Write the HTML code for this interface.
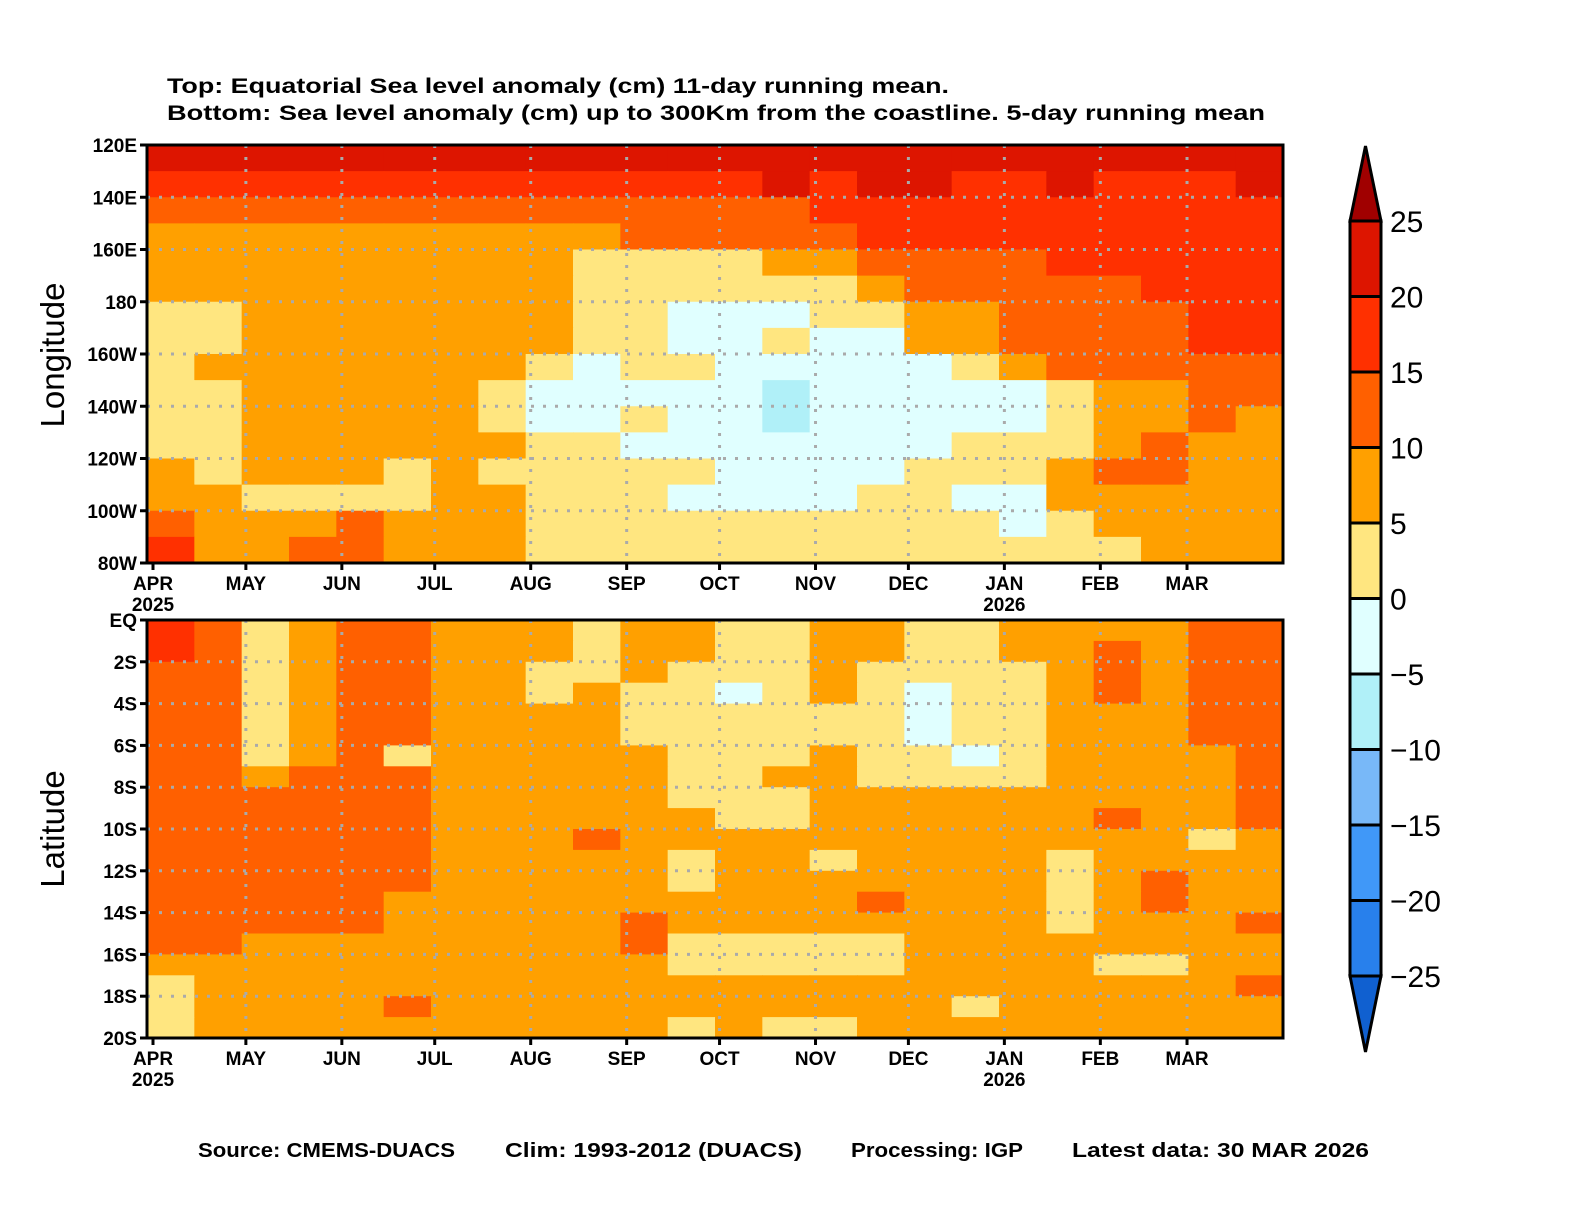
<!DOCTYPE html>
<html><head><meta charset="utf-8"><style>
body{margin:0;background:#fff;}
svg text{font-family:"Liberation Sans",sans-serif;font-weight:bold;fill:#000;}
</style></head><body>
<svg id="chart" width="1584" height="1224" xmlns="http://www.w3.org/2000/svg">
<rect x="0" y="0" width="1584" height="1224" fill="#fff"/>
<text x="167" y="93" font-size="21" textLength="782" lengthAdjust="spacingAndGlyphs">Top: Equatorial Sea level anomaly (cm) 11-day running mean.</text>
<text x="167" y="120" font-size="21" textLength="1098" lengthAdjust="spacingAndGlyphs">Bottom: Sea level anomaly (cm) up to 300Km from the coastline. 5-day running mean</text>
<g id="top"></g>
<g id="bot"></g>
<g id="cbar"></g>
<text transform="translate(64,355) rotate(-90)" text-anchor="middle" font-size="33" style="font-weight:normal">Longitude</text>
<text transform="translate(64,829) rotate(-90)" text-anchor="middle" font-size="33" style="font-weight:normal">Latitude</text>
<text x="198" y="1157" font-size="20" textLength="257" lengthAdjust="spacingAndGlyphs">Source: CMEMS-DUACS</text>
<text x="505" y="1157" font-size="20" textLength="297" lengthAdjust="spacingAndGlyphs">Clim: 1993-2012 (DUACS)</text>
<text x="851" y="1157" font-size="20" textLength="172" lengthAdjust="spacingAndGlyphs">Processing: IGP</text>
<text x="1072" y="1157" font-size="20" textLength="297" lengthAdjust="spacingAndGlyphs">Latest data: 30 MAR 2026</text>
</svg>
<script>
const levels=[-25,-20,-15,-10,-5,0,5,10,15,20,25];
const colors=['#1060d0','#2880ec','#4098f8','#78b8f8','#b0f0f8','#e0ffff','#ffe680','#ffa000','#ff6000','#ff3000','#dd1500','#a00000'];
const months=['APR','MAY','JUN','JUL','AUG','SEP','OCT','NOV','DEC','JAN','FEB','MAR'];
const monthDays=[0,30,61,91,122,153,183,214,244,275,306,334];
const topTicks=['120E','140E','160E','180','160W','140W','120W','100W','80W'];
const botTicks=['EQ','2S','4S','6S','8S','10S','12S','14S','16S','18S','20S'];
const topData=[
[22,22,22,22,22,22,22,22,22,22,22,22,22,22,22,22,22,22,22,22,22,22,22,22],
[17,17,17,17,17,17,17,17,17,17,17,17,17,22,17,22,22,17,17,22,17,17,17,22],
[12,12,12,12,12,12,12,12,12,12,12,12,12,12,17,17,17,17,17,17,17,17,17,17],
[7,7,7,7,7,7,7,7,7,7,12,12,12,12,12,17,17,17,17,17,17,17,17,17],
[7,7,7,7,7,7,7,7,7,3,3,3,3,7,7,12,12,12,12,17,17,17,17,17],
[7,7,7,7,7,7,7,7,7,3,3,3,3,3,3,7,12,12,12,12,12,17,17,17],
[3,3,7,7,7,7,7,7,7,3,3,-2,-2,-2,3,3,7,7,12,12,12,12,17,17],
[3,3,7,7,7,7,7,7,7,3,3,-2,-2,3,-2,-2,7,7,12,12,12,12,17,17],
[3,7,7,7,7,7,7,7,3,-2,3,3,-2,-2,-2,-2,-2,3,7,12,12,12,12,12],
[3,3,7,7,7,7,7,3,-2,-2,-2,-2,-2,-7,-2,-2,-2,-2,-2,3,7,7,12,12],
[3,3,7,7,7,7,7,3,-2,-2,3,-2,-2,-7,-2,-2,-2,-2,-2,3,7,7,12,7],
[3,3,7,7,7,7,7,7,3,3,-2,-2,-2,-2,-2,-2,-2,3,3,3,7,12,7,7],
[7,3,7,7,7,3,7,3,3,3,3,3,-2,-2,-2,-2,3,3,3,7,12,12,7,7],
[7,7,3,3,3,3,7,7,3,3,3,-2,-2,-2,-2,3,3,-2,-2,7,7,7,7,7],
[12,7,7,7,12,7,7,7,3,3,3,3,3,3,3,3,3,3,-2,3,7,7,7,7],
[17,7,7,12,12,7,7,7,3,3,3,3,3,3,3,3,3,3,3,3,3,7,7,7]];
const botData=[
[17,12,3,7,12,12,7,7,7,3,7,7,3,3,7,7,3,3,7,7,7,7,12,12],
[17,12,3,7,12,12,7,7,7,3,7,7,3,3,7,7,3,3,7,7,12,7,12,12],
[12,12,3,7,12,12,7,7,3,3,7,3,3,3,7,3,3,3,3,7,12,7,12,12],
[12,12,3,7,12,12,7,7,3,7,3,3,-2,3,7,3,-2,3,3,7,12,7,12,12],
[12,12,3,7,12,12,7,7,7,7,3,3,3,3,3,3,-2,3,3,7,7,7,12,12],
[12,12,3,7,12,12,7,7,7,7,3,3,3,3,3,3,-2,3,3,7,7,7,12,12],
[12,12,3,7,12,3,7,7,7,7,7,3,3,3,7,3,3,-2,3,7,7,7,7,12],
[12,12,7,12,12,12,7,7,7,7,7,3,3,7,7,3,3,3,3,7,7,7,7,12],
[12,12,12,12,12,12,7,7,7,7,7,3,3,3,7,7,7,7,7,7,7,7,7,12],
[12,12,12,12,12,12,7,7,7,7,7,7,3,3,7,7,7,7,7,7,12,7,7,12],
[12,12,12,12,12,12,7,7,7,12,7,7,7,7,7,7,7,7,7,7,7,7,3,7],
[12,12,12,12,12,12,7,7,7,7,7,3,7,7,3,7,7,7,7,3,7,7,7,7],
[12,12,12,12,12,12,7,7,7,7,7,3,7,7,7,7,7,7,7,3,7,12,7,7],
[12,12,12,12,12,7,7,7,7,7,7,7,7,7,7,12,7,7,7,3,7,12,7,7],
[12,12,12,12,12,7,7,7,7,7,12,7,7,7,7,7,7,7,7,3,7,7,7,12],
[12,12,7,7,7,7,7,7,7,7,12,3,3,3,3,3,7,7,7,7,7,7,7,7],
[7,7,7,7,7,7,7,7,7,7,7,3,3,3,3,3,7,7,7,7,3,3,7,7],
[3,7,7,7,7,7,7,7,7,7,7,7,7,7,7,7,7,7,7,7,7,7,7,12],
[3,7,7,7,7,12,7,7,7,7,7,7,7,7,7,7,7,3,7,7,7,7,7,7],
[3,7,7,7,7,7,7,7,7,7,7,3,7,3,3,7,7,7,7,7,7,7,7,7]];

const NS='http://www.w3.org/2000/svg';
function mk(tag,attrs,parent){const e=document.createElementNS(NS,tag);for(const k in attrs)e.setAttribute(k,attrs[k]);parent.appendChild(e);return e;}
function colorFor(v){let i=0;while(i<levels.length&&v>=levels[i])i++;return colors[i];}
const X0=147,X1=1283,totalDays=365;
function xDay(d){return X0+6+(X1-X0-6)*d/totalDays;}

function panel(g,data,y0,y1,ticks,name){
  const rows=data.length,cols=data[0].length;
  const cw=(X1-X0)/cols,rh=(y1-y0)/rows;
  data.forEach((row,r)=>row.forEach((v,c)=>{
    const el=mk('rect',{x:X0+c*cw,y:y0+r*rh,width:cw+0.6,height:rh+0.6,fill:colorFor(v)},g);
    
    
  }));
  ticks.forEach((t,i)=>{
    const y=y0+(y1-y0)*i/(ticks.length-1);
    if(i>0&&i<ticks.length-1){const l=mk('line',{x1:X0,x2:X1,y1:y,y2:y,stroke:'#aaa','stroke-width':3,'stroke-dasharray':'3,9'},g);
    }
    mk('line',{x1:X0-7,x2:X0,y1:y,y2:y,stroke:'#000','stroke-width':3},g);
    const tx=mk('text',{x:X0-10,y:y+7,'text-anchor':'end','font-size':19},g);tx.textContent=t;
    
  });
  months.forEach((m,i)=>{
    const x=xDay(monthDays[i]);
    if(i>0){const l=mk('line',{x1:x,x2:x,y1:y0,y2:y1,stroke:'#aaa','stroke-width':3,'stroke-dasharray':'3,9'},g);
    }
    mk('line',{x1:x,x2:x,y1:y1,y2:y1+7,stroke:'#000','stroke-width':3},g);
    const tx=mk('text',{x:x,y:y1+27,'text-anchor':'middle','font-size':19},g);tx.textContent=m;
    
    if(m==='APR'||m==='JAN'){const yr=mk('text',{x:x,y:y1+48,'text-anchor':'middle','font-size':19},g);yr.textContent=m==='APR'?'2025':'2026';
    }
  });
  const b=mk('rect',{x:X0,y:y0,width:X1-X0,height:y1-y0,fill:'none',stroke:'#000','stroke-width':3},g);
  
}
panel(document.getElementById('top'),topData,145,563,topTicks,'top');
panel(document.getElementById('bot'),botData,620,1038,botTicks,'bottom');

const cb=document.getElementById('cbar');
const cx0=1350,cx1=1381,cyTop=221,step=75.5;
const tip1=mk('polygon',{points:`${cx0},${cyTop} ${(cx0+cx1)/2},146 ${cx1},${cyTop}`,fill:colors[11],stroke:'#000','stroke-width':3},cb);

for(let i=0;i<10;i++){
  const r=mk('rect',{x:cx0,y:cyTop+i*step,width:cx1-cx0,height:step,fill:colors[10-i],stroke:'#000','stroke-width':3},cb);
  
}
const yb=cyTop+10*step;
const tip2=mk('polygon',{points:`${cx0},${yb} ${(cx0+cx1)/2},1052 ${cx1},${yb}`,fill:colors[0],stroke:'#000','stroke-width':3},cb);

for(let i=0;i<11;i++){
  const v=levels[10-i];
  const t=mk('text',{x:1390,y:cyTop+i*step+11,'font-size':30},cb);
  t.setAttribute('style','font-weight:normal');
  t.textContent=v<0?'\u2212'+(-v):String(v);
  
}
</script>
</body></html>
